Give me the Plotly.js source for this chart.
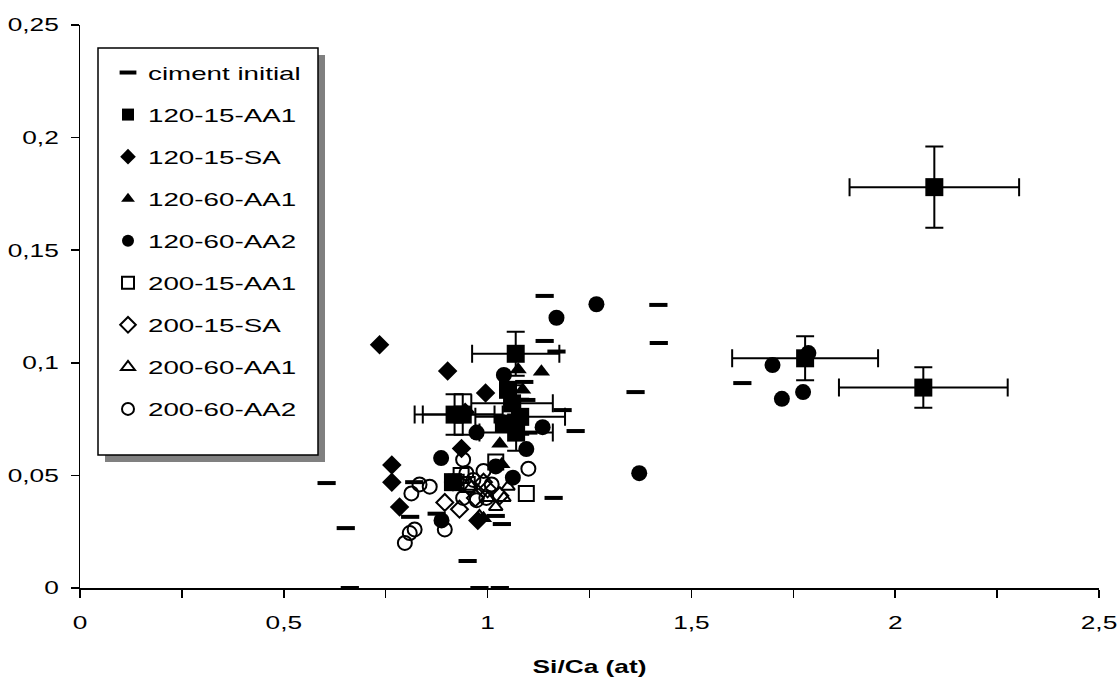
<!DOCTYPE html>
<html><head><meta charset="utf-8">
<script src="https://cdn.plot.ly/plotly-3.0.1.min.js"></script>
<style>html,body{margin:0;padding:0;background:#fff}</style>
</head><body>
<div id="chart" style="width:1117px;height:678px"></div>
<script>
// ---- data ----
const seriesNames = ["ciment initial","120-15-AA1","120-15-SA","120-60-AA1","120-60-AA2","200-15-AA1","200-15-SA","200-60-AA1","200-60-AA2"];

const cimentX = [0.605,0.652,0.662,0.98,1.03,0.951,0.81,0.875,0.82,1.02,1.035,1.162,1.216,1.363,1.42,1.419,1.14,1.14,1.169,1.625,1.184,1.09,1.095,1.10];
const cimentY = [0.0466,0.0266,0.0,0.0,0.0,0.012,0.0316,0.033,0.047,0.032,0.0284,0.040,0.0697,0.087,0.1088,0.1257,0.1297,0.1097,0.105,0.091,0.079,0.0915,0.0835,0.069];

const s1215AA1X = [2.096,1.779,2.069,1.069,0.919,0.939,1.06,1.08,1.07,1.05,1.04,0.915];
const s1215AA1Y = [0.178,0.102,0.089,0.104,0.077,0.077,0.082,0.076,0.069,0.088,0.073,0.047];
const s1215AA1ErrX = [0.208,0.179,0.207,0.107,0.098,0.098,0.10,0.11,0.09,0,0,0];
const s1215AA1ErrY = [0.018,0.0098,0.009,0.0098,0.009,0.009,0.008,0.008,0.008,0,0,0];

const s1215SAX = [0.735,0.902,0.765,0.765,0.784,0.936,0.995,0.976,0.945];
const s1215SAY = [0.108,0.0964,0.0546,0.047,0.036,0.062,0.0866,0.030,0.078];

const s1260AA1X = [1.132,1.075,1.086,1.03,1.035,1.06,0.99];
const s1260AA1Y = [0.096,0.097,0.088,0.064,0.055,0.083,0.031];

const s1260AA2X = [1.267,1.169,1.372,1.135,1.095,1.062,1.02,1.04,0.886,0.887,0.973,1.699,1.722,1.774,1.787];
const s1260AA2Y = [0.126,0.120,0.051,0.0714,0.0617,0.049,0.054,0.0946,0.0577,0.030,0.069,0.099,0.084,0.087,0.1043];

const s2015AA1X = [0.923,0.95,1.02,1.095,0.935];
const s2015AA1Y = [0.047,0.046,0.056,0.042,0.050];

const s2015SAX = [0.895,0.931,0.97,0.99,1.0,1.03,0.955];
const s2015SAY = [0.038,0.035,0.040,0.047,0.044,0.041,0.045];

const s2060AA1X = [0.98,1.0,1.02,1.04,1.05,0.96];
const s2060AA1Y = [0.032,0.040,0.036,0.040,0.045,0.045];

const s2060AA2X = [0.797,0.809,0.821,0.813,0.833,0.858,0.895,0.94,0.92,0.948,0.965,0.94,0.973,0.997,1.10,1.01,0.99];
const s2060AA2Y = [0.020,0.0244,0.026,0.042,0.046,0.045,0.026,0.057,0.047,0.051,0.048,0.040,0.039,0.040,0.053,0.046,0.052];

const xTitle = "Si/Ca (at)";

// ---- chart ----
const FONT = "Liberation Sans, Arial, sans-serif";
const FS = 18.5;
function mk(name, x, y, symbol, size, lw, extra) {
  const t = {
    type: "scatter", mode: "markers", name: name, x: x, y: y,
    legendgroup: name,
    marker: {symbol: symbol, size: size, color: "black", line: {color: "black", width: lw}},
    cliponaxis: false
  };
  return Object.assign(t, extra || {});
}

const traces = [
  mk(seriesNames[0], cimentX, cimentY, "line-ew", 13, 4),
  mk(seriesNames[1], s1215AA1X, s1215AA1Y, "square", 18, 0, {
    error_x: {type: "data", array: s1215AA1ErrX, visible: true, color: "black", thickness: 2, width: 9},
    error_y: {type: "data", array: s1215AA1ErrY, visible: true, color: "black", thickness: 2, width: 9}
  }),
  mk(seriesNames[2], s1215SAX, s1215SAY, "diamond", 15, 0),
  mk(seriesNames[3], s1260AA1X, s1260AA1Y, "triangle-up", 15, 0),
  mk(seriesNames[4], s1260AA2X, s1260AA2Y, "circle", 16, 0),
  mk(seriesNames[5], s2015AA1X, s2015AA1Y, "square-open", 15, 2),
  mk(seriesNames[6], s2015SAX, s2015SAY, "diamond-open", 13, 2),
  mk(seriesNames[7], s2060AA1X, s2060AA1Y, "triangle-up-open", 12, 2),
  mk(seriesNames[8], s2060AA2X, s2060AA2Y, "circle-open", 14, 2)
];

const layout = {
  width: 1117, height: 678,
  margin: {l: 80, r: 18, t: 25, b: 90, pad: 0},
  paper_bgcolor: "white", plot_bgcolor: "white",
  separators: ", ",
  font: {family: FONT, size: FS, color: "black"},
  showlegend: true,
  legend: {
    x: (108 - 80) / 1019, xanchor: "left",
    y: (588 - 54) / 563, yanchor: "top",
    bgcolor: "rgba(0,0,0,0)", borderwidth: 0,
    font: {family: FONT, size: FS, color: "black"},
    traceorder: "grouped", tracegroupgap: 15,
    itemsizing: "constant"
  },
  xaxis: {
    range: [0, 2.5], tick0: 0, dtick: 0.5,
    showgrid: false, zeroline: false,
    showline: true, linecolor: "black", linewidth: 1.5,
    ticks: "outside", ticklen: 8, tickwidth: 1.5, tickcolor: "black",
    minor: {dtick: 0.25, ticks: "outside", ticklen: 8, tickwidth: 1.5, tickcolor: "black", showgrid: false},
    ticklabelstandoff: 9,
    tickfont: {family: FONT, size: FS, color: "black"},
    title: {text: xTitle, font: {family: FONT, size: FS, color: "black", weight: "bold"}, standoff: 28},
    fixedrange: true
  },
  yaxis: {
    range: [0, 0.25], tick0: 0, dtick: 0.05,
    showgrid: false, zeroline: false,
    showline: true, linecolor: "black", linewidth: 1.5,
    ticks: "outside", ticklen: 8, tickwidth: 1.5, tickcolor: "black",
    ticklabelstandoff: 8,
    tickfont: {family: FONT, size: FS, color: "black"},
    fixedrange: true
  },
  shapes: [
    // legend frame shadow and frame
    {type: "rect", xref: "paper", yref: "paper", layer: "below",
     x0: (105 - 80) / 1019, x1: (325 - 80) / 1019, y0: (588 - 462) / 563, y1: (588 - 55) / 563,
     fillcolor: "#808080", line: {width: 0}},
    {type: "rect", xref: "paper", yref: "paper", layer: "below",
     x0: (98 - 80) / 1019, x1: (318 - 80) / 1019, y0: (588 - 455) / 563, y1: (588 - 48) / 563,
     fillcolor: "white", line: {color: "black", width: 1.5}}
  ]
};

// The reference text is drawn horizontally widened; reproduce that stretch.
const AXIS_STRETCH = 1.42;
const LEGEND_STRETCH = 1.5;
function widen(t, k) {
  const w = t.getComputedTextLength();
  if (w > 0) {
    t.setAttribute("textLength", (w * k).toFixed(2));
    t.setAttribute("lengthAdjust", "spacingAndGlyphs");
  }
}
function finish(gd) {
  gd.querySelectorAll("g.xtick text, g.ytick text, text.xtitle").forEach(function (t) { widen(t, AXIS_STRETCH); });
  gd.querySelectorAll("g.legend text.legendtext").forEach(function (t) { widen(t, LEGEND_STRETCH); });
  // let the widened legend labels show in full
  gd.querySelectorAll("g.legend [clip-path]").forEach(function (el) { el.removeAttribute("clip-path"); });
  // thicker dash symbol for the first legend entry, as in the reference
  const first = gd.querySelector("g.legend g.traces g.legendpoints path");
  if (first) first.style.strokeWidth = "4px";
}

const gd = document.getElementById("chart");
Plotly.newPlot(gd, traces, layout, {displayModeBar: false, staticPlot: true}).then(function () {
  finish(gd);
});
</script>
</body></html>
